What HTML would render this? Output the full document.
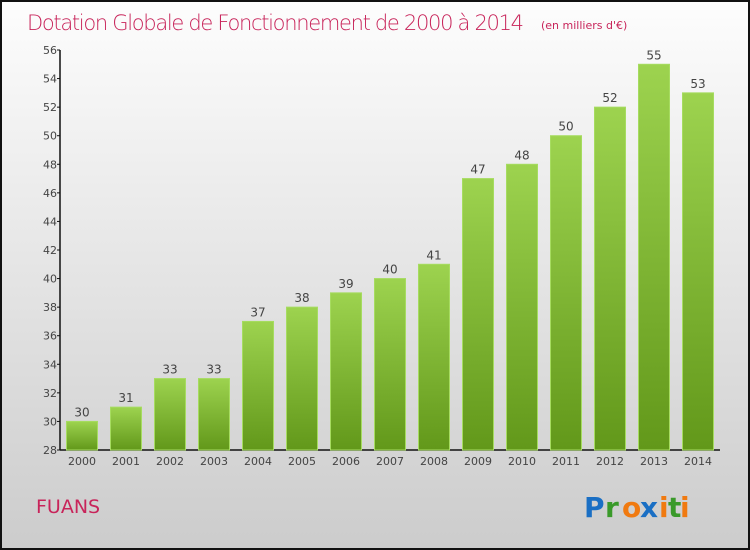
<!DOCTYPE html>
<html><head><meta charset="utf-8"><style>
body{margin:0;}
svg{display:block;font-family:"DejaVu Sans","Liberation Sans",sans-serif;}
</style></head><body>
<svg id="chart" width="750" height="550" xmlns="http://www.w3.org/2000/svg">
<defs>
<linearGradient id="bg" x1="0" y1="0" x2="0" y2="1"><stop offset="0" stop-color="#fdfdfd"/><stop offset="1" stop-color="#cccccc"/></linearGradient>
<linearGradient id="bar" x1="0" y1="0" x2="0" y2="1"><stop offset="0" stop-color="#9dd34f"/><stop offset="1" stop-color="#62981a"/></linearGradient>
</defs>
<rect x="1" y="1" width="748" height="548" fill="url(#bg)" stroke="#111" stroke-width="2"/>
<text x="27" y="30" font-size="21" fill="#c8245a" font-weight="200" style="font-family:'DejaVu Sans ExtraLight','DejaVu Sans',sans-serif" textLength="497">Dotation Globale de Fonctionnement de 2000 à 2014</text>
<text x="541" y="29" font-size="11" fill="#c8245a">(en milliers d'€)</text>
<g id="axes"></g>
<g id="bars"></g>
<text x="36" y="513" font-size="19" fill="#c8245a" style="font-family:'DejaVu Sans ExtraLight','DejaVu Sans',sans-serif">FUANS</text>
<g font-size="28" font-weight="bold" style="font-family:'DejaVu Sans',sans-serif">
<text x="584" y="517" fill="#1a6fc4">P</text><text x="605" y="517" fill="#3a9a2a">r</text><text x="622" y="517" fill="#f07a10">o</text><text x="640" y="517" fill="#1a6fc4">x</text><text x="659" y="517" fill="#f07a10">i</text><text x="668" y="517" fill="#3a9a2a">t</text><text x="680" y="517" fill="#f07a10">i</text>
</g>
</svg>
<script>
const categories=["2000","2001","2002","2003","2004","2005","2006","2007","2008","2009","2010","2011","2012","2013","2014"];
const values=[30,31,33,33,37,38,39,40,41,47,48,50,52,55,53];
const yTicks=[28,30,32,34,36,38,40,42,44,46,48,50,52,54,56];
const NS="http://www.w3.org/2000/svg";
const x0=60,x1=720,yTop=50,yBot=450,yMin=28,yMax=56;
const y=v=>yBot-(v-yMin)/(yMax-yMin)*(yBot-yTop);
const xc=i=>82+i*(698-82)/(categories.length-1);
function mk(t,a,p){const e=document.createElementNS(NS,t);for(const k in a)e.setAttribute(k,a[k]);p.appendChild(e);return e;}
const ax=document.getElementById('axes'),bg=document.getElementById('bars');
const yl=mk('line',{x1:x0,y1:yTop,x2:x0,y2:yBot,stroke:'#111','stroke-width':1.5},ax);


const xl=mk('line',{x1:x0,y1:yBot,x2:x1,y2:yBot,stroke:'#111','stroke-width':1.5},ax);


yTicks.forEach(t=>{
 mk('line',{x1:x0-3,y1:y(t),x2:x0,y2:y(t),stroke:'#111'},ax);
 const tx=mk('text',{x:x0-3,y:y(t)+4,'font-size':11,'text-anchor':'end',fill:'#444'},ax);
 tx.textContent=t;
 
 
});
categories.forEach((c,i)=>{
 const w=31,v=values[i];
 const r=mk('rect',{x:xc(i)-w/2,y:y(v),width:w,height:yBot-y(v),fill:'url(#bar)',stroke:'#a6dc60','stroke-width':1},bg);
 
 
 const vl=mk('text',{x:xc(i),y:y(v)-5,'font-size':12,'text-anchor':'middle',fill:'#444'},bg);
 vl.textContent=v;
 
 
 const cl=mk('text',{x:xc(i),y:yBot+15,'font-size':11,'text-anchor':'middle',fill:'#444'},ax);
 cl.textContent=c;
 
 
});
</script>
</body></html>
